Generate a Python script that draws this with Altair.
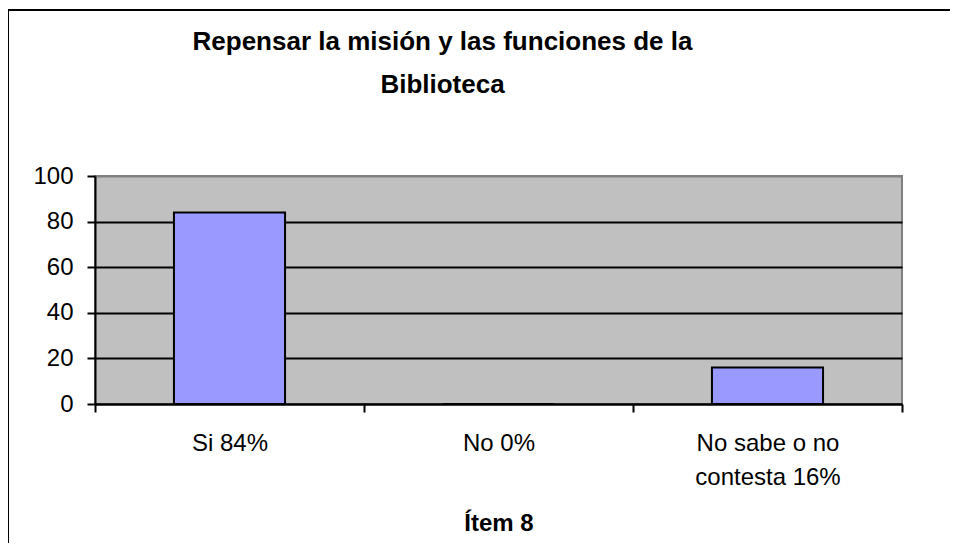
import altair as alt
import pandas as pd

categories = ["Si 84%", "No 0%", "No sabe o no|contesta 16%"]
values = [84, 0, 16]
title_lines = ["Repensar la misión y las funciones de la", "Biblioteca"]
x_title = "Ítem 8"
y_ticks = [0, 20, 40, 60, 80, 100]

df = pd.DataFrame({"categoria": categories, "valor": values})

FONT = "Liberation Sans"

bars = alt.Chart(df).mark_bar(
    color="#9999FF", stroke="black", strokeWidth=2, width=alt.RelativeBandSize(0.413)
).encode(
    x=alt.X(
        "categoria:N",
        sort=categories,
        title=x_title,
        scale=alt.Scale(paddingInner=0, paddingOuter=0),
        axis=alt.Axis(
            labelAngle=0,
            labelExpr="split(datum.label, '|')",
            labelFont=FONT,
            labelFontSize=24,
            labelColor="black",
            labelPadding=19,
            labelLineHeight=34,
            labelBaseline="top",
            labelLimit=0,
            tickBand="extent",
            tickSize=8,
            tickColor="black",
            tickWidth=2,
            domainColor="black",
            domainWidth=2,
            titleFont=FONT,
            titleFontSize=24,
            titleFontWeight="bold",
            titleColor="black",
            titleBaseline="alphabetic",
            titleY=126,
            grid=False,
        ),
    ),
    y=alt.Y(
        "valor:Q",
        title=None,
        scale=alt.Scale(domain=[0, 100]),
        axis=alt.Axis(
            values=y_ticks,
            labelFont=FONT,
            labelFontSize=24,
            labelColor="black",
            labelPadding=14,
            tickSize=8,
            tickColor="black",
            tickWidth=2,
            domainColor="black",
            domainWidth=2,
            gridColor=alt.condition("datum.value == 100", alt.value("#808080"), alt.value("black")),
            gridWidth=2,
            gridOpacity=1,
        ),
    ),
)

frame_data = alt.Data(values=[{"f": 1}])
frame_top = alt.Chart(frame_data).mark_rule(color="black", strokeWidth=2, clip=False).encode(
    x=alt.value(-88), x2=alt.value(900), y=alt.value(-166)
)
frame_left = alt.Chart(frame_data).mark_rule(color="black", strokeWidth=2, clip=False).encode(
    x=alt.value(-87), y=alt.value(-167), y2=alt.value(400)
)

chart = (
    alt.layer(bars, frame_top, frame_left)
    .properties(
        width=807,
        height=228,
        title=alt.TitleParams(
            text=title_lines,
            font=FONT,
            fontSize=26,
            fontWeight="bold",
            color="black",
            anchor="middle",
            baseline="top",
            dx=-56,
            lineHeight=43,
            offset=-90,
        ),
        autosize=alt.AutoSizeParams(type="none"),
        padding={"left": 87, "top": 168, "right": 48, "bottom": 139},
        background="white",
    )
    .configure_view(fill="#C0C0C0", stroke="#808080", strokeWidth=2)
)

chart.save("out.html", embed_options={"renderer": "svg", "actions": False})
